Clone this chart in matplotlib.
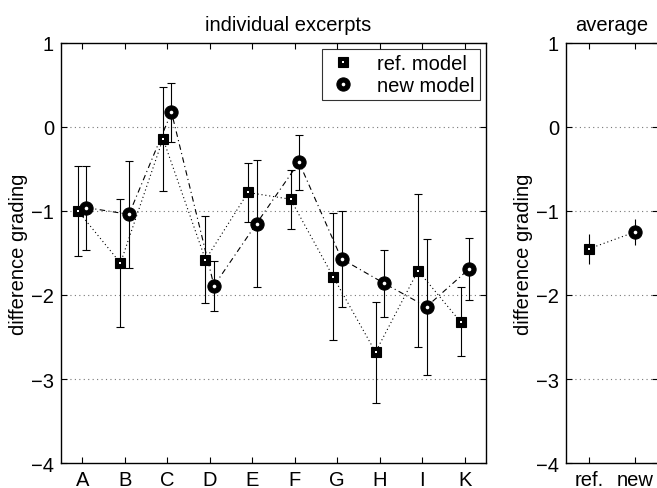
import matplotlib
matplotlib.use("Agg")
import matplotlib.pyplot as plt
from matplotlib.lines import Line2D
import numpy as np

plt.rcParams['font.family'] = ['Liberation Sans', 'DejaVu Sans']

# Excerpt labels and mean difference gradings (with error half-widths)
excerpts = ['A', 'B', 'C', 'D', 'E', 'F', 'G', 'H', 'I', 'K']
ref_mean = [-1.00, -1.62, -0.14, -1.58, -0.78, -0.86, -1.78, -2.68, -1.71, -2.32]
ref_err = [0.53, 0.76, 0.62, 0.52, 0.35, 0.35, 0.76, 0.60, 0.91, 0.41]
new_mean = [-0.96, -1.04, 0.175, -1.89, -1.15, -0.42, -1.57, -1.86, -2.14, -1.69]
new_err = [0.50, 0.64, 0.35, 0.30, 0.76, 0.33, 0.57, 0.40, 0.81, 0.37]

# Averages over all excerpts
avg_labels = ['ref.', 'new']
avg_mean = [-1.45, -1.25]
avg_err = [0.18, 0.16]

yticks = [1, 0, -1, -2, -3, -4]
fs = 14.5

fig = plt.figure(figsize=(6.57, 4.89), dpi=100)
ax1 = fig.add_axes([0.0928, 0.0511, 0.647, 0.859])
ax2 = fig.add_axes([0.8615, 0.0511, 0.14, 0.859])

# black markers with a small white centre dot
sq_kw = dict(marker='s', ms=7, mfc='black', mec='black', mew=0.8)
sq_dot = dict(marker='s', ms=2.0, mfc='white', mew=0)
ci_kw = dict(marker='o', ms=9.5, mfc='black', mec='black', mew=0.8)
ci_dot = dict(marker='o', ms=2.6, mfc='white', mew=0)


def style(ax):
    ax.set_ylim(-4, 1)
    ax.set_yticks(yticks)
    ax.set_yticklabels(['1', '0', '\u22121', '\u22122', '\u22123', '\u22124'])
    for v in [0, -1, -2, -3]:
        ax.axhline(v, color='#777777', ls=(0, (1, 3)), lw=0.8, zorder=0)
    ax.tick_params(direction='in', top=True, right=True, labelsize=fs, length=4, pad=5)
    for s in ax.spines.values():
        s.set_linewidth(1.0)
    ax.set_ylabel('difference grading', fontsize=fs, labelpad=2)


# individual excerpts
x = np.arange(1, len(excerpts) + 1)
xr = x - 0.1
xn = x + 0.1
ax1.errorbar(xr, ref_mean, yerr=ref_err, fmt='none', ecolor='black',
             elinewidth=0.8, capsize=3, capthick=0.8)
ax1.errorbar(xn, new_mean, yerr=new_err, fmt='none', ecolor='black',
             elinewidth=0.8, capsize=3, capthick=0.8)
ax1.plot(xr, ref_mean, color='black', ls=(0, (1, 2.5)), lw=0.8)
ax1.plot(xn, new_mean, color='black', ls=(0, (5, 3, 1, 3)), lw=0.8)
ax1.plot(xr, ref_mean, ls='none', **sq_kw)
ax1.plot(xr, ref_mean, ls='none', **sq_dot)
ax1.plot(xn, new_mean, ls='none', **ci_kw)
ax1.plot(xn, new_mean, ls='none', **ci_dot)
ax1.set_xlim(0.5, 10.5)
ax1.set_xticks(x)
ax1.set_xticklabels(excerpts)
style(ax1)
ax1.set_title('individual excerpts', fontsize=fs, pad=9, x=0.534)

h_ref = (Line2D([], [], ls='none', **sq_kw), Line2D([], [], ls='none', **sq_dot))
h_new = (Line2D([], [], ls='none', **ci_kw), Line2D([], [], ls='none', **ci_dot))
leg = ax1.legend([h_ref, h_new], ['ref. model', 'new model'], loc='upper right',
                 fontsize=fs, frameon=True, fancybox=False, edgecolor='black',
                 handlelength=1.6, borderpad=0.25, labelspacing=0.15,
                 handletextpad=0.9, borderaxespad=0.3)
leg.get_frame().set_linewidth(0.8)

# average
xa = np.arange(1, len(avg_labels) + 1)
ax2.errorbar(xa, avg_mean, yerr=avg_err, fmt='none', ecolor='black',
             elinewidth=0.8, capsize=0)
ax2.plot(xa, avg_mean, color='black', ls=(0, (1, 2.5)), lw=0.8)
ax2.plot(xa[:1], avg_mean[:1], ls='none', **sq_kw)
ax2.plot(xa[:1], avg_mean[:1], ls='none', **sq_dot)
ax2.plot(xa[1:], avg_mean[1:], ls='none', **ci_kw)
ax2.plot(xa[1:], avg_mean[1:], ls='none', **ci_dot)
ax2.set_xlim(0.5, 2.5)
ax2.set_xticks(xa)
ax2.set_xticklabels(avg_labels)
style(ax2)
ax2.set_title('average', fontsize=fs, pad=9)

fig.savefig('out.png', dpi=100)
